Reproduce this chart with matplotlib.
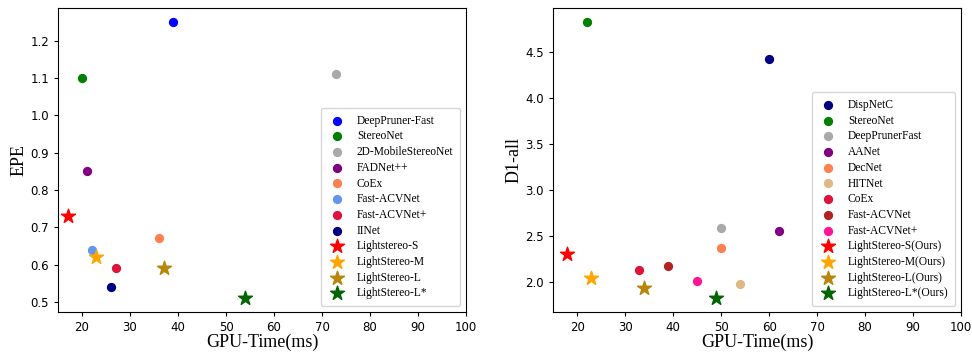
import matplotlib
matplotlib.use("Agg")
import matplotlib.pyplot as plt

# left panel: EPE vs GPU time
epe_names = ['DeepPruner-Fast', 'StereoNet', '2D-MobileStereoNet', 'FADNet++', 'CoEx',
             'Fast-ACVNet', 'Fast-ACVNet+', 'IINet', 'Lightstereo-S', 'LightStereo-M',
             'LightStereo-L', 'LightStereo-L*']
epe_time = [39, 20, 73, 21, 36, 22, 27, 26, 17, 23, 37, 54]
epe_vals = [1.25, 1.10, 1.11, 0.85, 0.67, 0.64, 0.59, 0.54, 0.73, 0.62, 0.59, 0.51]
epe_colors = ['blue', 'green', 'darkgray', 'purple', 'coral', 'cornflowerblue', 'crimson',
              'navy', 'red', 'orange', 'darkgoldenrod', 'darkgreen']
epe_stars = [False] * 8 + [True] * 4

# right panel: D1-all vs GPU time
d1_names = ['DispNetC', 'StereoNet', 'DeepPrunerFast', 'AANet', 'DecNet', 'HITNet', 'CoEx',
            'Fast-ACVNet', 'Fast-ACVNet+', 'LightStereo-S(Ours)', 'LightStereo-M(Ours)',
            'LightStereo-L(Ours)', 'LightStereo-L*(Ours)']
d1_time = [60, 22, 50, 62, 50, 54, 33, 39, 45, 18, 23, 34, 49]
d1_vals = [4.43, 4.83, 2.59, 2.55, 2.37, 1.98, 2.13, 2.17, 2.01, 2.30, 2.04, 1.93, 1.82]
d1_colors = ['navy', 'green', 'darkgray', 'purple', 'coral', 'burlywood', 'crimson',
             'firebrick', 'deeppink', 'red', 'orange', 'darkgoldenrod', 'darkgreen']
d1_stars = [False] * 9 + [True] * 4

serif = 'Liberation Serif'


def draw_panel(ax, names, xs, ys, colors, stars, ylabel):
    for name, x, y, c, star in zip(names, xs, ys, colors, stars):
        if star:
            ax.scatter(x, y, marker='*', s=110, color=c, label=name, zorder=3)
        else:
            ax.scatter(x, y, marker='o', s=32, color=c, label=name, zorder=3)
    ax.set_xlim(15, 100)
    ax.set_xlabel('GPU-Time(ms)', fontfamily=serif, fontsize=13, labelpad=0)
    ax.set_ylabel(ylabel, fontfamily=serif, fontsize=13, labelpad=2)
    ax.tick_params(labelsize=8.5, length=3)
    ax.legend(loc='lower right', prop={'family': serif, 'size': 8.3},
              labelspacing=0.32, handlelength=1.6, handletextpad=0.9, borderpad=0.6)


fig = plt.figure(figsize=(9.72, 3.52), dpi=100)
ax1 = fig.add_axes([0.0597, 0.1136, 0.4198, 0.8636])
ax2 = fig.add_axes([0.569, 0.1136, 0.4198, 0.8636])

draw_panel(ax1, epe_names, epe_time, epe_vals, epe_colors, epe_stars, 'EPE')
draw_panel(ax2, d1_names, d1_time, d1_vals, d1_colors, d1_stars, 'D1-all')
ax2.set_yticks([2.0, 2.5, 3.0, 3.5, 4.0, 4.5])

fig.savefig('out.png', dpi=100)
